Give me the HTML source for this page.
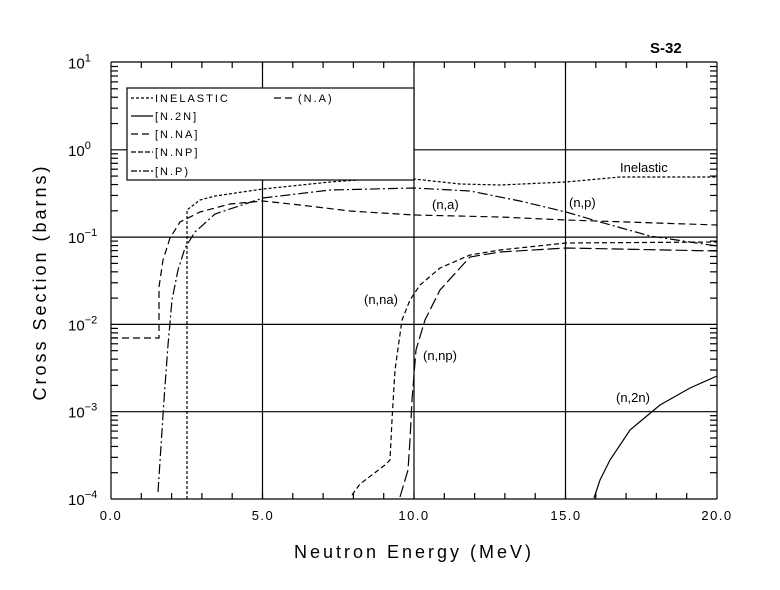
<!DOCTYPE html>
<html><head><style>body{margin:0;background:#fff}svg{display:block}text{font-family:"Liberation Sans",sans-serif;fill:#000}</style></head>
<body>
<svg id="s" width="780" height="590" viewBox="0 0 780 590" xmlns="http://www.w3.org/2000/svg">
<g stroke="#000" stroke-width="1.2" fill="none" id="g"></g>
<rect x="127" y="88" width="287" height="92" fill="#fff" stroke="#000" stroke-width="1.2"/>
<g stroke="#000" stroke-width="1.2" fill="none">
<line x1="131" y1="98" x2="153" y2="98" stroke-dasharray="3,2"/>
<line x1="131" y1="116" x2="153" y2="116"/>
<line x1="131" y1="134" x2="153" y2="134" stroke-dasharray="7,4"/>
<line x1="131" y1="152" x2="153" y2="152" stroke-dasharray="5,2"/>
<line x1="131" y1="171" x2="153" y2="171" stroke-dasharray="6,2,2,2"/>
<line x1="274" y1="98" x2="296" y2="98" stroke-dasharray="7,4"/>
</g>
<g font-size="11" letter-spacing="2">
<text x="155" y="102">INELASTIC</text>
<text x="155" y="120">[N.2N]</text>
<text x="155" y="138">[N.NA]</text>
<text x="155" y="156">[N.NP]</text>
<text x="155" y="175">[N.P)</text>
<text x="298" y="102">(N.A)</text>
</g>
<g font-size="13">
<text x="620" y="172">Inelastic</text>
<text x="432" y="209">(n,a)</text>
<text x="569" y="207">(n,p)</text>
<text x="364" y="304">(n,na)</text>
<text x="423" y="360">(n,np)</text>
<text x="616" y="402">(n,2n)</text>
</g>
<text x="650" y="53" font-size="15" font-weight="bold">S-32</text>
<g font-size="13" letter-spacing="1.5" text-anchor="middle">
<text x="111" y="520">0.0</text><text x="263" y="520">5.0</text><text x="414" y="520">10.0</text><text x="566" y="520">15.0</text><text x="717" y="520">20.0</text>
</g>
<g font-size="15" id="yl"></g>
<text x="414" y="558" font-size="18" text-anchor="middle" letter-spacing="3">Neutron Energy (MeV)</text>
<text transform="translate(46,282) rotate(-90)" font-size="18" text-anchor="middle" letter-spacing="3">Cross Section (barns)</text>
</svg>
<script>
var g=document.getElementById('g'),NS='http://www.w3.org/2000/svg';
function X(e){return 111+30.3*e}function Y(d){return 499-87.3*(d+4)}
function ln(a,b,c,d,da){var l=document.createElementNS(NS,'line');l.setAttribute('x1',a);l.setAttribute('y1',b);l.setAttribute('x2',c);l.setAttribute('y2',d);if(da)l.setAttribute('stroke-dasharray',da);g.appendChild(l)}
function pl(p,da){var l=document.createElementNS(NS,'polyline');l.setAttribute('points',p);if(da)l.setAttribute('stroke-dasharray',da);g.appendChild(l)}
ln(111,62,717,62);ln(111,499,717,499);ln(111,62,111,499);ln(717,62,717,499);
for(var d=-3;d<=0;d++)ln(111,Y(d),717,Y(d));
[5,10,15].forEach(function(e){ln(X(e),62,X(e),499)});
for(var e=1;e<20;e++){ln(X(e),499,X(e),493);ln(X(e),62,X(e),68)}
for(var d=-4;d<1;d++)for(var k=2;k<10;k++){var y=Y(d+Math.log10(k));ln(111,y,118,y);ln(710,y,717,y)}
var yl=document.getElementById('yl');
for(var d=-4;d<=1;d++){var t=document.createElementNS(NS,'text');t.setAttribute('x',68);t.setAttribute('y',Y(d)+6);t.innerHTML='10<tspan dy="-7" font-size="11">'+(d<0?'\u2212'+(-d):d)+'</tspan>';yl.appendChild(t)}
pl("187,499 187,210 200,200 215,196 263,189 330,182 400,177 414,179 460,184 500,185 566,182 620,177 717,177","3,2");
pl("111,338 159,338 159,287 163,260 170,238 180,222 200,212 230,204 263,201 300,205 350,211 414,215 500,217 566,220 717,225","7,4");
pl("158,492 164,400 168,345 172,300 178,270 185,248 195,232 215,214 263,198 330,190 414,188 470,191 520,201 566,212 600,222 650,236 690,242 717,246","10,3,2,3");
pl("352,495 360,484 385,465 390,460 392,420 395,370 402,320 410,300 420,285 440,268 470,255 500,250 566,243 717,242","5,3");
pl("400,497 408,470 410,440 412,400 416,350 425,320 440,290 470,257 500,252 566,248 717,251","12,4");
pl("594,498 600,480 610,460 630,430 660,405 690,388 717,376");
</script>
</body></html>
